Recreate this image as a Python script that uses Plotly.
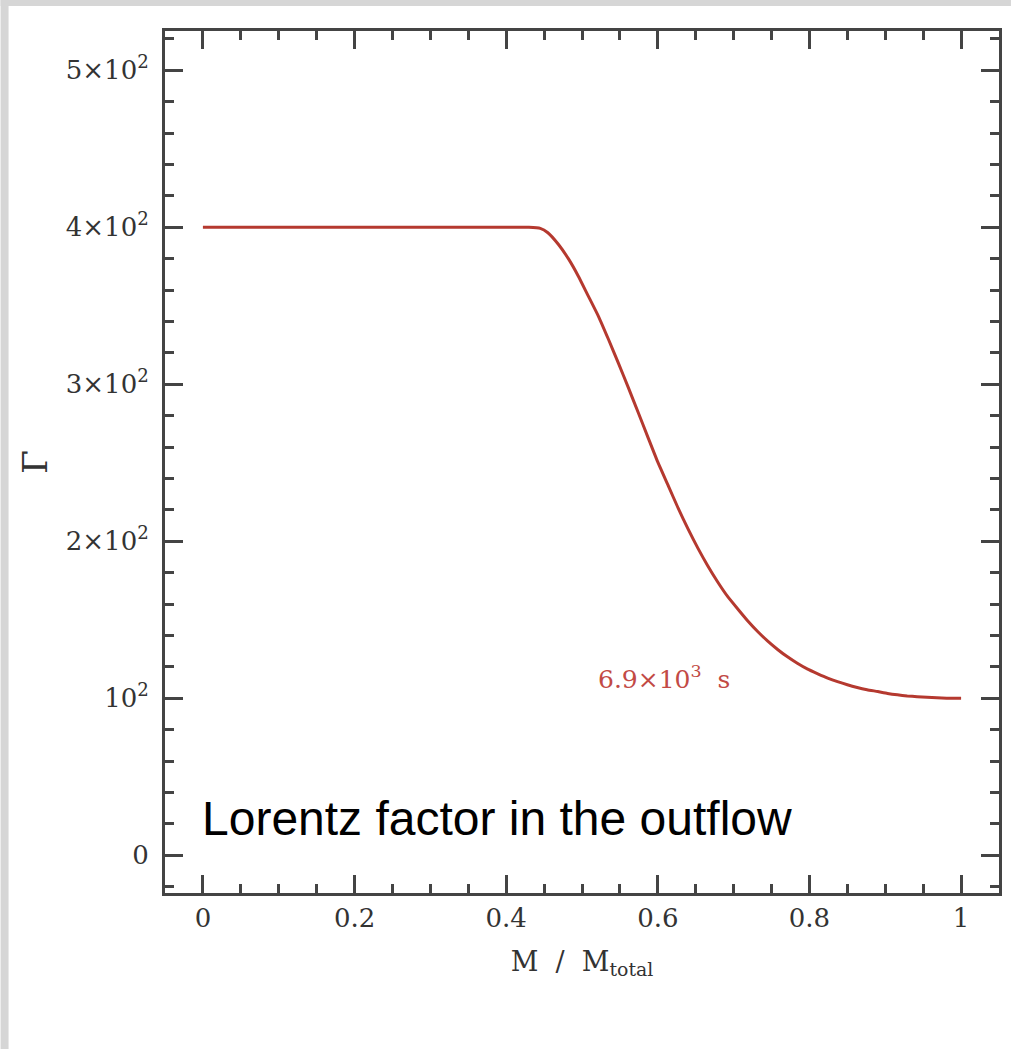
import plotly.graph_objects as go

# Lorentz factor profile across the mass coordinate of the outflow
mass_fraction = [0.0, 0.10, 0.20, 0.30, 0.40, 0.43, 0.445, 0.455, 0.469, 0.482, 0.495,
                 0.508, 0.522, 0.535, 0.548, 0.561, 0.574, 0.587, 0.600, 0.614,
                 0.627, 0.640, 0.653, 0.666, 0.679, 0.692, 0.706, 0.719, 0.732,
                 0.745, 0.758, 0.771, 0.784, 0.797, 0.811, 0.824, 0.837, 0.850,
                 0.863, 0.876, 0.890, 0.903, 0.916, 0.929, 0.942, 0.955, 0.968,
                 0.981, 1.0]
lorentz_factor = [400, 400, 400, 400, 400, 400, 399.3, 396.5, 389, 380, 369,
                  356.5, 343, 328.5, 313.5, 298, 282.2, 266.2, 250.4, 235.2,
                  220.9, 207.7, 195.5, 184.3, 174.1, 164.9, 156.6, 149.1, 142.4,
                  136.4, 131.1, 126.4, 122.3, 118.7, 115.6, 112.9, 110.6, 108.6,
                  106.9, 105.5, 104.3, 103.1, 102.2, 101.5, 101.0, 100.6, 100.3,
                  100.1, 100]

x_ticks = [0, 0.2, 0.4, 0.6, 0.8, 1]
x_tick_text = ["0", "0.2", "0.4", "0.6", "0.8", "1"]
y_ticks = [0, 100, 200, 300, 400, 500]
y_tick_text = ["0", "10<sup>2</sup>", "2×10<sup>2</sup>", "3×10<sup>2</sup>",
               "4×10<sup>2</sup>", "5×10<sup>2</sup>"]

x_range = [-0.05, 1.05]
y_range = [-24, 525]

axis_color = "#444444"
curve_color = "#b5392f"
label_color = "#c24a45"
serif = "DejaVu Serif"

fig = go.Figure()
fig.add_trace(go.Scatter(
    x=mass_fraction, y=lorentz_factor, mode="lines",
    line=dict(color=curve_color, width=3, shape="spline", smoothing=0.5),
    hoverinfo="skip", showlegend=False,
))

common_axis = dict(
    showline=True, linecolor=axis_color, linewidth=3, mirror="ticks",
    ticks="inside", ticklen=18, tickwidth=2.5, tickcolor=axis_color,
    showgrid=False, zeroline=False,
    tickfont=dict(family=serif, size=26, color="#333333"),
)

fig.update_xaxes(
    range=x_range, tickvals=x_ticks, ticktext=x_tick_text,
    minor=dict(dtick=0.05, tick0=0, ticks="inside", ticklen=9, tickwidth=2.5,
               tickcolor=axis_color),
    title=dict(text="M  /  M<sub>total</sub>",
               font=dict(family=serif, size=27, color="#333333"), standoff=20),
    ticklabelstandoff=0,
    **common_axis,
)
fig.update_yaxes(
    range=y_range, tickvals=y_ticks, ticktext=y_tick_text,
    minor=dict(dtick=20, tick0=0, ticks="inside", ticklen=9, tickwidth=2.5,
               tickcolor=axis_color),
    title=dict(text="Γ", font=dict(family=serif, size=34, color="#333333"),
               standoff=8),
    ticklabelstandoff=8,
    **common_axis,
)

fig.add_annotation(
    x=0.608, y=113.5, xref="x", yref="y", text="6.9×10<sup>3</sup>  s",
    showarrow=False, font=dict(family=serif, size=25, color=label_color),
)
fig.add_annotation(
    x=-0.004, y=23.5, xref="x", yref="y", xanchor="left", text="Lorentz factor in the outflow",
    showarrow=False, font=dict(family="Liberation Sans", size=48, color="#000000"),
)

# light grey frame strips along the left and top edges of the page
fig.add_shape(type="rect", xref="paper", yref="paper",
              x0=-165 / 837, x1=-157 / 837, y0=-156 / 862, y1=893 / 862,
              fillcolor="#d6d6d6", line_width=0, layer="above")
fig.add_shape(type="rect", xref="paper", yref="paper",
              x0=-165 / 837, x1=849 / 837, y0=887 / 862, y1=893 / 862,
              fillcolor="#d6d6d6", line_width=0, layer="above")

fig.update_layout(
    width=1014, height=1049,
    margin=dict(l=165, r=12, t=31, b=156),
    paper_bgcolor="white", plot_bgcolor="white",
    showlegend=False,
)

fig.write_html("out.html")
